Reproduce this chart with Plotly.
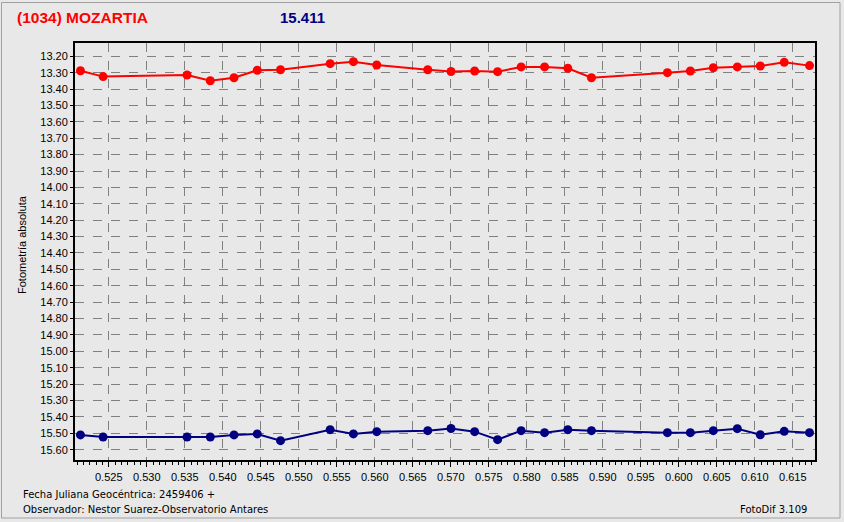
import plotly.graph_objects as go

# ---- data ----
jd = [0.52128, 0.52426, 0.53530, 0.53836, 0.54148, 0.54454, 0.54760, 0.55413,
      0.55719, 0.56026, 0.56697, 0.57003, 0.57314, 0.57616, 0.57926, 0.58234,
      0.58540, 0.58851, 0.59850, 0.60152, 0.60454, 0.60770, 0.61072, 0.61387,
      0.61720]
asteroid_mag = [13.288, 13.324, 13.314, 13.349, 13.331, 13.285, 13.282, 13.245,
                13.233, 13.253, 13.282, 13.293, 13.290, 13.294, 13.265, 13.265,
                13.273, 13.331, 13.300, 13.290, 13.270, 13.265, 13.259, 13.237,
                13.257]
comparison_mag = [15.510, 15.523, 15.523, 15.523, 15.510, 15.504, 15.545, 15.478,
                  15.504, 15.490, 15.484, 15.471, 15.490, 15.539, 15.484, 15.496,
                  15.478, 15.484, 15.496, 15.496, 15.484, 15.472, 15.509, 15.488,
                  15.496]
y_ticks = [round(13.2 + 0.1 * i, 2) for i in range(25)]
y_tick_labels = [f"{v:.2f}" for v in y_ticks]
x_ticks = [round(0.525 + 0.005 * i, 3) for i in range(19)]
x_tick_labels = [f"{v:.3f}" for v in x_ticks]

title_text = "(1034) MOZARTIA"
mag_text = "15.411"
y_title = "Fotometría absoluta"
footer_jd = "Fecha Juliana Geocéntrica: 2459406 +"
footer_obs = "Observador: Nestor Suarez-Observatorio Antares"
footer_sw = "FotoDif 3.109"

# ---- layout geometry ----
W, H = 844, 522
ML, MR, MT, MB = 75, 29, 43, 62
PW, PH = W - ML - MR, H - MT - MB
BG = "#E8E8E8"


def px(x):
    return (x - ML) / PW


def py(y):
    return (H - MB - y) / PH


fig = go.Figure()
fig.add_trace(go.Scatter(x=jd, y=asteroid_mag, mode="lines+markers",
                         line=dict(color="#FF0000", width=2),
                         marker=dict(color="#FF0000", size=9, symbol="circle"),
                         showlegend=False))
fig.add_trace(go.Scatter(x=jd, y=comparison_mag, mode="lines+markers",
                         line=dict(color="#000080", width=2),
                         marker=dict(color="#000080", size=9, symbol="circle"),
                         showlegend=False))

tick_font = dict(family="Liberation Sans, Arial, sans-serif", size=11, color="#000000")

fig.update_xaxes(range=[0.52056, 0.61792], tickvals=x_ticks, ticktext=x_tick_labels,
                 showgrid=True, gridcolor="#808080", griddash="dash", gridwidth=1,
                 showline=True, linecolor="#000000", linewidth=2, mirror=True,
                 ticks="outside", ticklen=5, tickcolor="#000000",
                 ticklabelstandoff=1,
                 minor=dict(tick0=0.525, dtick=0.005 / 6, ticks="outside", ticklen=3,
                            tickcolor="#000000", showgrid=False),
                 tickfont=tick_font, zeroline=False)
fig.update_yaxes(range=[15.663, 13.119], tickvals=y_ticks, ticktext=y_tick_labels,
                 showgrid=True, gridcolor="#808080", griddash="dash", gridwidth=1,
                 showline=True, linecolor="#000000", linewidth=2, mirror=True,
                 ticks="outside", ticklen=3, tickcolor="#000000",
                 tickfont=tick_font, zeroline=False)

annots = [
    dict(text=f"<b>{title_text}</b>", x=px(15), y=py(18), xanchor="left", yanchor="middle",
         font=dict(family="Liberation Sans, Arial, sans-serif", size=15.5, color="#FF0000")),
    dict(text=f"<b>{mag_text}</b>", x=px(278), y=py(18), xanchor="left", yanchor="middle",
         font=dict(family="Liberation Sans, Arial, sans-serif", size=15, color="#000080")),
    dict(text=y_title, x=px(22), y=py(245), xanchor="center", yanchor="middle", textangle=-90,
         font=dict(family="Liberation Sans, Arial, sans-serif", size=11, color="#000000")),
    dict(text=footer_jd, x=px(21), y=py(494), xanchor="left", yanchor="middle",
         font=dict(family="DejaVu Sans, sans-serif", size=10, color="#000000")),
    dict(text=footer_obs, x=px(21), y=py(510), xanchor="left", yanchor="middle",
         font=dict(family="DejaVu Sans, sans-serif", size=10, color="#000000")),
    dict(text=footer_sw, x=px(809), y=py(510), xanchor="right", yanchor="middle",
         font=dict(family="DejaVu Sans, sans-serif", size=10, color="#000000")),
]
for a in annots:
    a.update(xref="paper", yref="paper", showarrow=False)

fig.update_layout(
    width=W, height=H, autosize=False,
    margin=dict(l=ML, r=MR, t=MT, b=MB, pad=0),
    paper_bgcolor=BG, plot_bgcolor=BG,
    annotations=annots,
    shapes=[dict(type="rect", xref="paper", yref="paper",
                 x0=px(1.5), x1=px(840), y0=py(518), y1=py(2.5),
                 line=dict(color="#A0A0A0", width=1), layer="below")],
)

fig.write_html("out.html", config=dict(displayModeBar=False),
               post_script="document.body.style.margin='0';document.body.style.overflow='hidden';")
